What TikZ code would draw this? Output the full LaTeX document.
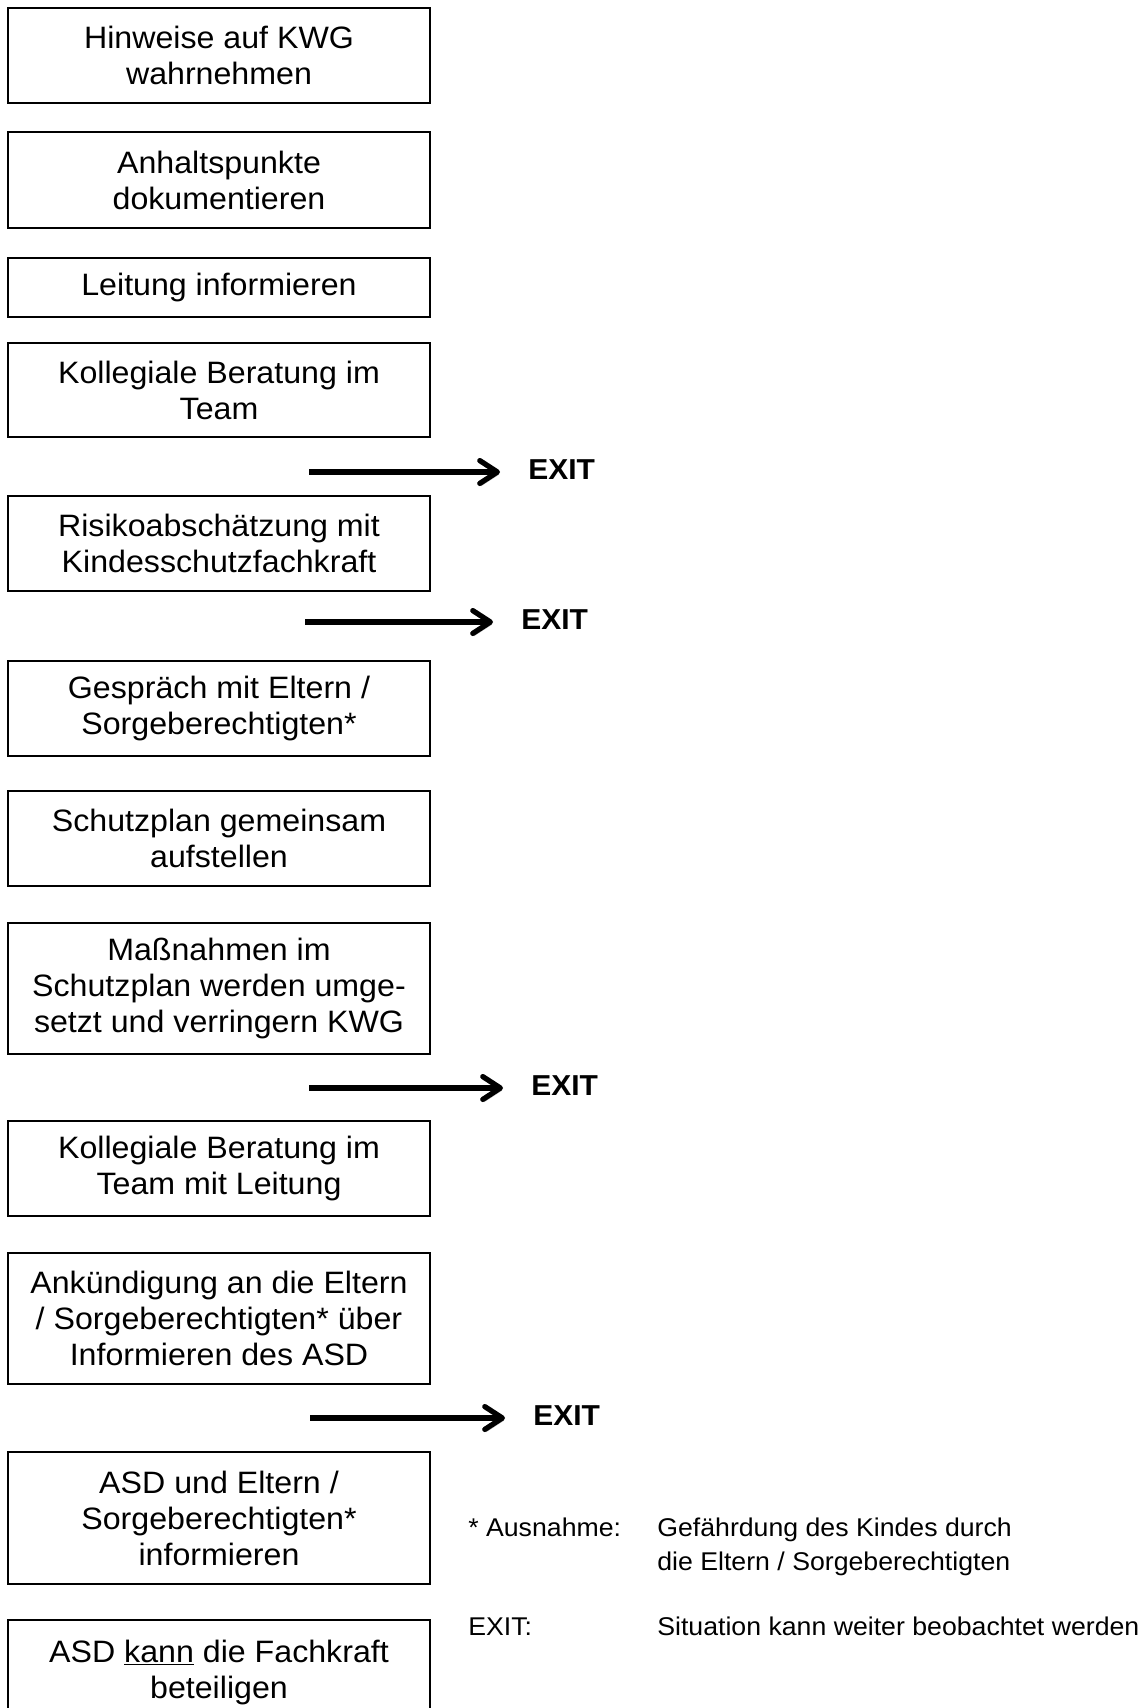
\documentclass[tikz,border=0pt]{standalone}
\usepackage{fontspec}
\setmainfont{Liberation Sans}[FakeStretch=1.04]
\usepackage{tikz}
\usetikzlibrary{arrows.meta}

\newcommand{\boxfont}{\fontsize{17.6pt}{20.5pt}\selectfont}
\newcommand{\exitfont}{\fontsize{16.4pt}{18pt}\selectfont\bfseries}
\newcommand{\notefont}{\fontsize{14.6pt}{18.8pt}\selectfont}

\begin{document}
\begin{tikzpicture}[x=0.02cm, y=-0.02cm,
  stepbox/.style={draw, line width=1pt, minimum width=8.44cm, minimum height=#1*0.02cm,
    inner sep=0pt, align=center, font=\boxfont},
  exitlabel/.style={anchor=west, inner sep=0pt, font=\exitfont},
  exitarrow/.style={line width=3pt, -{Straight Barb[length=10pt, width=13pt, line join=round, line cap=round]},
    shorten >=0.56cm,
    preaction={draw=black!25, transform canvas={shift={(0.7pt,-1.4pt)}}}},
  note/.style={anchor=base west, inner sep=0pt, font=\notefont}]
\useasboundingbox (0,0) rectangle (1144,1708);
\clip (0,0) rectangle (1144,1708);
% steps
\node[stepbox=95]  (hinweise)       at (219,55.5)  {Hinweise auf KWG\\wahrnehmen};
\node[stepbox=96]  (anhalt)         at (219,180)   {Anhaltspunkte\\dokumentieren};
\node[stepbox=59]  (leitung)        at (219,287.5) {Leitung informieren};
\node[stepbox=94]  (beratung)       at (219,390)   {Kollegiale Beratung im\\Team};
\node[stepbox=95]  (risiko)         at (219,543.5) {Risikoabschätzung mit\\Kindesschutzfachkraft};
\node[stepbox=95]  (gespraech)      at (219,708.5) {Gespräch mit Eltern /\\Sorgeberechtigten*};
\node[stepbox=95]  (schutzplan)     at (219,838.5) {Schutzplan gemeinsam\\aufstellen};
\node[stepbox=131] (massnahmen)     at (219,988.5) {Maßnahmen im\\Schutzplan werden umge-\\setzt und verringern KWG};
\node[stepbox=95]  (beratungleitung) at (219,1168.5) {Kollegiale Beratung im\\Team mit Leitung};
\node[stepbox=131] (ankuendigung)   at (219,1318.5) {Ankündigung an die Eltern\\/ Sorgeberechtigten* über\\Informieren des ASD};
\node[stepbox=132] (asdeltern)      at (219,1518)  {ASD und Eltern /\\Sorgeberechtigten*\\informieren};
\node[stepbox=104] (asdfachkraft)   at (219,1672)  {ASD \underline{kann} die Fachkraft\\beteiligen};
% exit arrows
\coordinate (a1) at (309,472);
\coordinate (a2) at (305,622);
\coordinate (a3) at (309,1088);
\coordinate (a4) at (310,1418);
\node[exitlabel] (exit1) at (528,470)  {EXIT};
\node[exitlabel] (exit2) at (521,620)  {EXIT};
\node[exitlabel] (exit3) at (531,1086) {EXIT};
\node[exitlabel] (exit4) at (533,1416) {EXIT};
\draw[exitarrow] (a1) -- (a1 -| exit1.west);
\draw[exitarrow] (a2) -- (a2 -| exit2.west);
\draw[exitarrow] (a3) -- (a3 -| exit3.west);
\draw[exitarrow] (a4) -- (a4 -| exit4.west);
% notes
\node[note] (ausnahme)  at (468,1536) {* Ausnahme:};
\node[note] (ausnahme1) at (657,1536) {Gefährdung des Kindes durch};
\node[note] (ausnahme2) at (657,1570) {die Eltern / Sorgeberechtigten};
\node[note] (exitkey)   at (468,1635) {EXIT:};
\node[note] (exittext)  at (657,1635) {Situation kann weiter beobachtet werden};
\end{tikzpicture}
\end{document}
